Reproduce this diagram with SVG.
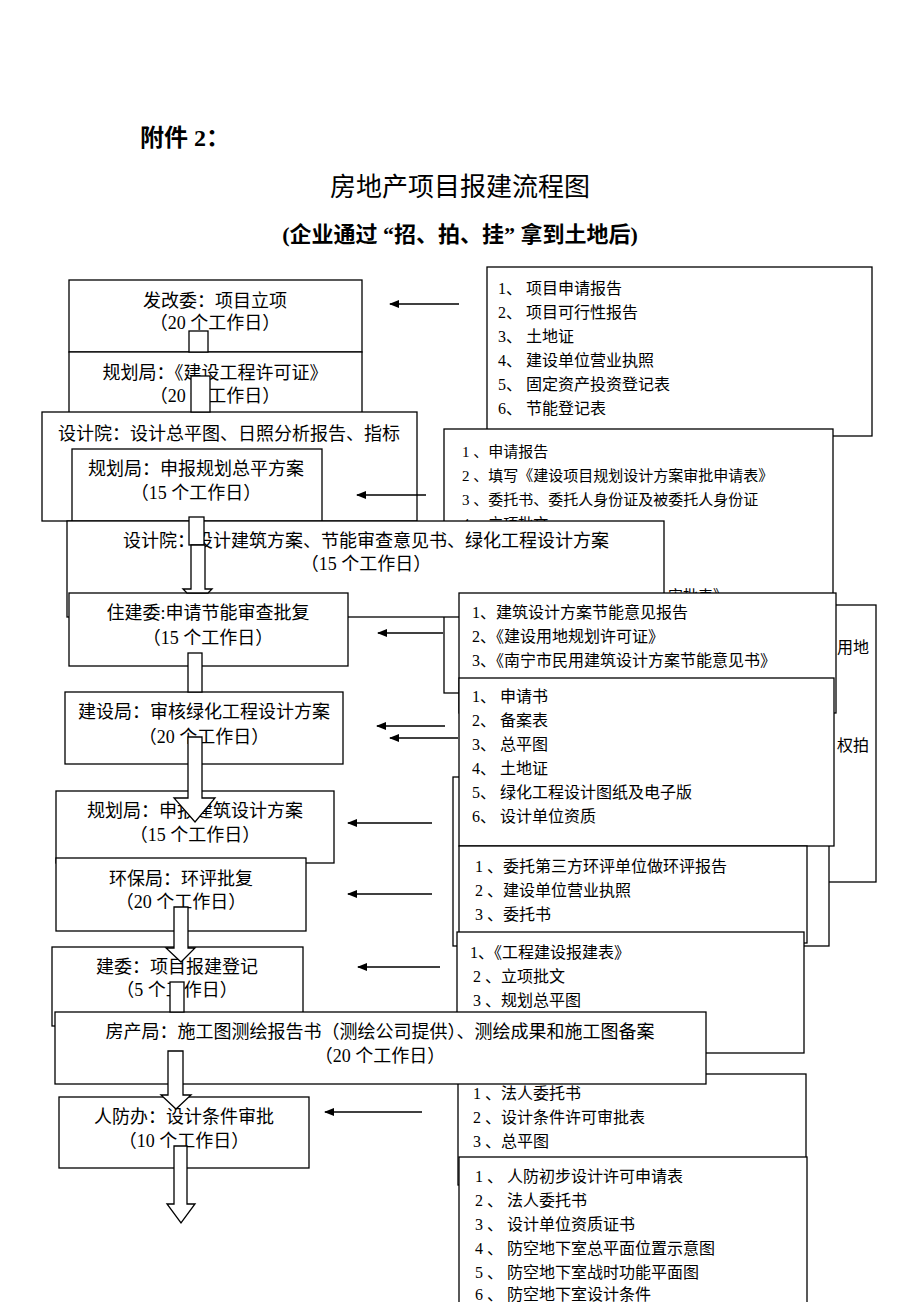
<svg xmlns="http://www.w3.org/2000/svg" width="920" height="1302" viewBox="0 0 920 1302">
<defs>
<style>
.box{fill:#fff;stroke:#000;stroke-width:1.3}
.t{font-family:"Liberation Serif","Noto Sans CJK SC",serif;font-size:18px;fill:#000}
.c{text-anchor:middle}
.l{font-size:16px}
.s{font-size:15px}
.ba{fill:#fff;stroke:#000;stroke-width:1.3}
.ar{stroke:#000;stroke-width:1.5;fill:none;marker-end:url(#ah)}
.title{font-family:"Liberation Serif","Noto Sans CJK SC",serif;fill:#000}
</style>
<marker id="ah" markerWidth="10" markerHeight="8" refX="9" refY="4" orient="auto" markerUnits="userSpaceOnUse">
<path d="M0,0 L10,4 L0,8 Z" fill="#000"/>
</marker>
</defs>
<rect width="920" height="1302" fill="#fff"/>

<g id="title">
<text class="title" x="140" y="146" font-size="24" font-weight="bold">附件 2：</text>
<text class="title" x="460" y="196" font-size="26" text-anchor="middle">房地产项目报建流程图</text>
<text class="title" x="460" y="242" font-size="22" font-weight="bold" text-anchor="middle">(企业通过 “招、拍、挂” 拿到土地后)</text>
</g>

<g id="list-fgw">
<rect class="box" x="487" y="267" width="385" height="169"/>
<text class="t l" x="498" y="294">1、 项目申请报告</text>
<text class="t l" x="498" y="318">2、 项目可行性报告</text>
<text class="t l" x="498" y="342">3、 土地证</text>
<text class="t l" x="498" y="366">4、 建设单位营业执照</text>
<text class="t l" x="498" y="390">5、 固定资产投资登记表</text>
<text class="t l" x="498" y="414">6、 节能登记表</text>
</g>

<g id="list-hidden-right">
<rect class="box" x="470" y="605" width="406" height="277"/>
<text class="t l" x="837" y="653">用地</text>
<text class="t l" x="837" y="751">权拍</text>
</g>

<g id="list-ghj-zpfa">
<rect class="box" x="444" y="429" width="389" height="264"/>
<text class="t s" x="462" y="457">1 、申请报告</text>
<text class="t s" x="462" y="481">2 、填写《建设项目规划设计方案审批申请表》</text>
<text class="t s" x="462" y="505">3 、委托书、委托人身份证及被委托人身份证</text>
<text class="t s" x="462" y="529">4 、立项批文</text>
<text class="t s" x="668" y="601">审批表》</text>
</g>

<g id="node-fgw">
<rect class="box" x="69" y="280" width="293" height="72"/>
<text class="t c" x="215" y="307">发改委：项目立项</text>
<text class="t c" x="215" y="329">（20 个工作日）</text>
</g>

<g id="node-ghj-xkz">
<rect class="box" x="69" y="352" width="293" height="70"/>
<text class="t c" x="215" y="379">规划局：《建设工程许可证》</text>
<text class="t c" x="215" y="402">（20 个工作日）</text>
</g>

<g id="node-sjy-zpt">
<rect class="box" x="42" y="412" width="375" height="109"/>
<text class="t c" x="229" y="440">设计院：设计总平图、日照分析报告、指标</text>
</g>

<g id="node-ghj-zpfa">
<rect class="box" x="72" y="449" width="250" height="72"/>
<text class="t c" x="196" y="475">规划局：申报规划总平方案</text>
<text class="t c" x="196" y="499">（15 个工作日）</text>
</g>

<g id="node-sjy-jzfa">
<rect class="box" x="67" y="521" width="597" height="96"/>
<text class="t c" x="366" y="547">设计院：设计建筑方案、节能审查意见书、绿化工程设计方案</text>
<text class="t c" x="366" y="570">（15 个工作日）</text>
</g>

<g id="list-zjw">
<rect class="box" x="459" y="593" width="377" height="120"/>
<text class="t l" x="472" y="618">1、建筑设计方案节能意见报告</text>
<text class="t l" x="472" y="642">2、《建设用地规划许可证》</text>
<text class="t l" x="472" y="666">3、《南宁市民用建筑设计方案节能意见书》</text>
</g>

<g id="node-zjw">
<rect class="box" x="69" y="593" width="279" height="73"/>
<text class="t c" x="208" y="619">住建委:申请节能审查批复</text>
<text class="t c" x="208" y="644">（15 个工作日）</text>
</g>

<g id="list-hidden-mid">
<rect class="box" x="453" y="777" width="376" height="169"/>
</g>

<g id="list-jsj">
<rect class="box" x="459" y="678" width="375" height="168"/>
<text class="t l" x="472" y="702">1、 申请书</text>
<text class="t l" x="472" y="726">2、 备案表</text>
<text class="t l" x="472" y="750">3、 总平图</text>
<text class="t l" x="472" y="774">4、 土地证</text>
<text class="t l" x="472" y="798">5、 绿化工程设计图纸及电子版</text>
<text class="t l" x="472" y="822">6、 设计单位资质</text>
</g>

<g id="list-hbj">
<rect class="box" x="459" y="846" width="348" height="97"/>
<text class="t l" x="475" y="872">1 、委托第三方环评单位做环评报告</text>
<text class="t l" x="475" y="896">2 、建设单位营业执照</text>
<text class="t l" x="475" y="920">3 、委托书</text>
</g>

<g id="node-jsj">
<rect class="box" x="65" y="692" width="278" height="72"/>
<text class="t c" x="204" y="718">建设局：审核绿化工程设计方案</text>
<text class="t c" x="204" y="743">（20 个工作日）</text>
</g>

<g id="node-ghj-jzfa">
<rect class="box" x="56" y="791" width="278" height="72"/>
<text class="t c" x="195" y="817">规划局：申报建筑设计方案</text>
<text class="t c" x="195" y="841">（15 个工作日）</text>
</g>

<g id="node-hbj">
<rect class="box" x="56" y="858" width="250" height="73"/>
<text class="t c" x="181" y="885">环保局：环评批复</text>
<text class="t c" x="181" y="908">（20 个工作日）</text>
</g>

<g id="node-jw">
<rect class="box" x="52" y="947" width="251" height="79"/>
<text class="t c" x="177" y="973">建委：项目报建登记</text>
<text class="t c" x="177" y="996">（5 个工作日）</text>
</g>

<g id="list-jw">
<rect class="box" x="457" y="932" width="347" height="121"/>
<text class="t l" x="470" y="958">1、《工程建设报建表》</text>
<text class="t l" x="473" y="982">2 、立项批文</text>
<text class="t l" x="473" y="1006">3 、规划总平图</text>
</g>

<g id="list-rfb-1">
<rect class="box" x="458" y="1074" width="348" height="111"/>
<text class="t l" x="473" y="1099">1 、法人委托书</text>
<text class="t l" x="473" y="1123">2 、设计条件许可审批表</text>
<text class="t l" x="473" y="1147">3 、总平图</text>
</g>

<g id="list-rfb-2">
<rect class="box" x="459" y="1157" width="348" height="160"/>
<text class="t l" x="475" y="1182">1 、 人防初步设计许可申请表</text>
<text class="t l" x="475" y="1206">2 、 法人委托书</text>
<text class="t l" x="475" y="1230">3 、 设计单位资质证书</text>
<text class="t l" x="475" y="1254">4 、 防空地下室总平面位置示意图</text>
<text class="t l" x="475" y="1278">5 、 防空地下室战时功能平面图</text>
<text class="t l" x="475" y="1300">6 、 防空地下室设计条件</text>
</g>

<g id="node-fcj">
<rect class="box" x="55" y="1012" width="651" height="72"/>
<text class="t c" x="380" y="1038">房产局：施工图测绘报告书（测绘公司提供）、测绘成果和施工图备案</text>
<text class="t c" x="380" y="1062">（20 个工作日）</text>
</g>

<g id="node-rfb">
<rect class="box" x="59" y="1097" width="250" height="71"/>
<text class="t c" x="184" y="1123">人防办：设计条件审批</text>
<text class="t c" x="184" y="1147">（10 个工作日）</text>
</g>

<g id="connectors">
<rect class="ba" x="189" y="331" width="19" height="21"/>
<rect class="ba" x="191" y="376" width="19" height="36"/>
<rect class="ba" x="189" y="517" width="15" height="28"/>
<polygon class="ba" points="191,545 205,545 205,589 212,589 208,593 187,593 183,589 191,589"/>
<rect class="ba" x="188" y="653" width="14" height="39"/>
<polygon class="ba" points="188,737 202,737 202,798 215,798 195,822 174,798 188,798"/>
<polygon class="ba" points="174,907 188,907 188,948 195,948 181,962 166,948 174,948"/>
<rect class="ba" x="170" y="982" width="14" height="30"/>
<polygon class="ba" points="168,1051 183,1051 183,1095 191,1095 176,1109 161,1095 168,1095"/>
<polygon class="ba" points="174,1146 187,1146 187,1204 195,1204 181,1223 167,1204 174,1204"/>
<line class="ar" x1="459" y1="304" x2="390" y2="304"/>
<line class="ar" x1="426" y1="495" x2="357" y2="495"/>
<line class="ar" x1="443" y1="633" x2="378" y2="633"/>
<line class="ar" x1="445" y1="726" x2="377" y2="726"/>
<line class="ar" x1="458" y1="738" x2="390" y2="738"/>
<line class="ar" x1="432" y1="823" x2="348" y2="823"/>
<line class="ar" x1="432" y1="894" x2="348" y2="894"/>
<line class="ar" x1="440" y1="967" x2="358" y2="967"/>
<line class="ar" x1="422" y1="1112" x2="325" y2="1112"/>
</g>
</svg>
